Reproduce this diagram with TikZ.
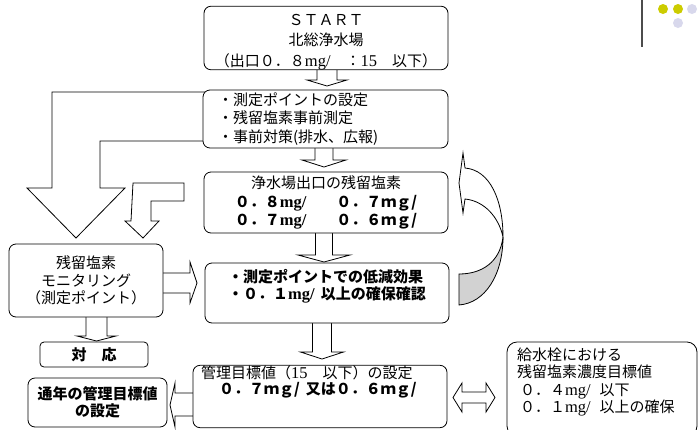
\documentclass[tikz,border=0pt]{standalone}
\usepackage{fontspec}
\setmainfont{Noto Sans CJK JP}
\newfontfamily\mincho[Scale=1.1]{Liberation Serif}
\newcommand{\mg}{{\mincho mg/}}

\definecolor{dotyellow}{RGB}{204,204,0}
\definecolor{dotlilac}{RGB}{216,216,236}

\tikzset{
    txt/.style={font=\fontsize{15}{19.5}\selectfont},
    boldtxt/.style={font=\fontsize{15}{19.5}\selectfont\bfseries},
    box/.style={draw, fill=white, rounded corners=7pt, line width=0.8pt, inner sep=0pt, align=center, txt},
    blockarrow/.style={draw, fill=white, line width=0.8pt, line join=miter},
}

\begin{document}
\begin{tikzpicture}[x=1pt, y=-1pt]

    \clip (0, 0) rectangle (699, 429);

    % Corner mark
    \draw [line width=1.5pt, black!70] (642, 0) -- (642, 47);
    \fill [dotyellow] (663, 9) circle (5);
    \fill [dotyellow] (678, 9) circle (5);
    \fill [dotlilac] (692, 9) circle (5);
    \fill [dotlilac] (678, 23) circle (5);

    % Down arrows
    \foreach \cx/\ya/\yb/\yc/\sw/\hw in {327/60/80/86/10/20, 324/140/160/167/9/22, 324/225/255/262/8.5/26, 322/315/352/359/9.5/21.5, 96.5/310/336/341/10.5/19.5} {
            \draw [blockarrow] (\cx-\sw, \ya) -- (\cx-\sw, \yb) -- (\cx-\hw, \yb) -- (\cx, \yc)
                -- (\cx+\hw, \yb) -- (\cx+\sw, \yb) -- (\cx+\sw, \ya) -- cycle;
        }

    % Side arrows
    \draw [blockarrow] (160, 273) -- (190, 273) -- (190, 262) -- (197, 283) -- (190, 303) -- (190, 293) -- (160, 293) -- cycle;
    \draw [blockarrow] (200, 393) -- (175, 393) -- (175, 383) -- (170, 405) -- (175, 427) -- (175, 416) -- (200, 416) -- cycle;
    \draw [blockarrow] (462, 392) -- (486, 392) -- (486, 383) -- (495, 397.5) -- (486, 412) -- (486, 403)
        -- (462, 403) -- (462, 412) -- (453, 397.5) -- (462, 383) -- cycle;

    % Big bent arrow
    \draw [blockarrow] (210, 92) -- (52, 92) -- (52, 188) -- (27, 188) -- (76, 238) -- (125, 188)
        -- (100, 188) -- (100, 141) -- (210, 141) -- cycle;

    % Small bent arrow
    \draw [blockarrow] (184, 183) -- (133, 183) -- (131, 221) -- (125, 221) -- (143, 238) -- (159, 221)
        -- (151, 221) -- (151, 201) -- (184, 201) -- cycle;

    % Curved arrow
    \draw [line width=0.8pt, fill=gray!35] (459, 305) .. controls (485, 303) and (503, 275) .. (503, 237)
        .. controls (500, 262) and (482, 274) .. (459, 274) -- cycle;
    \draw [line width=0.8pt, fill=white] (503, 237) .. controls (503, 200) and (490, 170) .. (465, 168)
        -- (463, 153) -- (459, 183) -- (463, 213) -- (465, 199)
        .. controls (485, 201) and (499, 218) .. (503, 237) -- cycle;

    % Boxes
    \node [box, minimum width=244pt, minimum height=61pt] (start) at (326, 38)
        {\rule{0pt}{19pt}ＳＴＡＲＴ\\[1pt]北総浄水場\\[1pt]（出口０．８\mg　：{\mincho 15}　以下）};
    \node [box, minimum width=245pt, minimum height=58pt, text width=215pt, align=left] (prep) at (325.5, 119)
        {・測定ポイントの設定\\[-1pt]・残留塩素事前測定\\[-1pt]・事前対策(排水、広報)};
    \node [box, minimum width=244pt, minimum height=61pt] (outlet) at (326, 202.5)
        {浄水場出口の残留塩素\\[-1pt]\textbf{０．８\mg　　０．７ｍｇ/}\\[-1pt]\textbf{０．７\mg　　０．６ｍｇ/}};
    \node [box, font=\fontsize{15}{17}\selectfont\bfseries, minimum width=244pt, minimum height=60pt, align=left] (effect) at (327, 293)
        {・測定ポイントでの低減効果\\・０．１\mg\hspace{0.4em}以上の確保確認\\\mbox{}};
    \node [box, font=\fontsize{15}{17.5}\selectfont, minimum width=154pt, minimum height=73pt] (monitor) at (86, 280.5)
        {残留塩素\\モニタリング\\（測定ポイント）};
    \node [box, boldtxt, rounded corners=4pt, minimum width=108pt, minimum height=25pt] (action) at (94, 354.5)
        {対　応};
    \node [box, boldtxt, minimum width=139pt, minimum height=49pt] (annual) at (97.5, 402.5)
        {通年の管理目標値\\[-2pt]の設定};
    \node [box, font=\fontsize{15}{16.5}\selectfont, minimum width=254pt, minimum height=61pt, text width=238pt, align=left] (target) at (320, 396.5)
        {管理目標値（{\mincho 15}　以下）の設定\\\hspace*{18pt}\textbf{０．７ｍｇ/\hspace{0.4em}又は０．６ｍｇ/}\\\mbox{}\\\mbox{}};
    \node [box, font=\fontsize{15}{17.5}\selectfont, rounded corners=10pt, minimum width=190pt, minimum height=94pt, text width=170pt, align=left] (goal) at (602, 389)
        {給水栓における\\残留塩素濃度目標値\\\hspace*{3pt}０．４\mg\hspace{0.6em}以下\\\hspace*{3pt}０．１\mg\hspace{0.6em}以上の確保\\\mbox{}};

\end{tikzpicture}
\end{document}
